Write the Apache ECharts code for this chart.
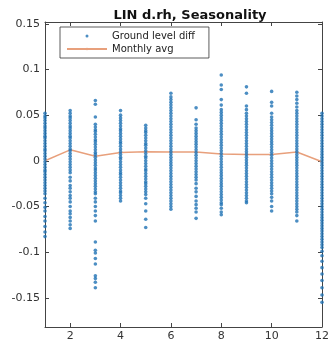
<!DOCTYPE html>
<html><head><meta charset="utf-8">
<script src="https://cdn.jsdelivr.net/npm/echarts@6/dist/echarts.min.js"></script>
<style>html,body{margin:0;padding:0;background:#fff}#c{width:332px;height:342px}</style>
</head><body><div id="c"></div>
<script>
var months = [1,2,3,4,5,6,7,8,9,10,11,12];
var xTicks = [2,4,6,8,10,12];
var yTicks = [-0.15,-0.1,-0.05,0,0.05,0.1,0.15];
var yTickLabels = ['-0.15','-0.1','-0.05','0','0.05','0.1','0.15'];
var monthlyAvg = [0, 0.012, 0.005, 0.009, 0.010, 0.0097, 0.0097, 0.0074, 0.007, 0.007, 0.0097, -0.001];

var m1 = [0.052,0.049,0.047,0.044,0.041,0.038,0.036,0.033,0.030,0.027,0.025,0.022,0.019,0.016,0.013,0.011,0.008,0.005,0.002,-0.001,-0.004,-0.007,-0.010,-0.012,-0.015,-0.018,-0.021,-0.024,-0.027,-0.030,-0.033,-0.036,-0.041,-0.046,-0.051,-0.055,-0.061,-0.066,-0.072,-0.078,-0.083];
var m2 = [0.055,0.052,0.049,0.047,0.044,0.041,0.038,0.036,0.033,0.030,0.027,0.025,0.022,0.019,0.016,0.013,0.011,0.008,0.005,0.002,-0.001,-0.004,-0.007,-0.010,-0.013,-0.018,-0.022,-0.027,-0.030,-0.034,-0.038,-0.041,-0.045,-0.050,-0.055,-0.058,-0.062,-0.066,-0.070,-0.074];
var m3 = [0.066,0.062,0.048,0.040,0.037,0.034,0.032,0.029,0.026,0.023,0.021,0.018,0.015,0.012,0.009,0.007,0.004,0.001,-0.002,-0.005,-0.008,-0.010,-0.013,-0.016,-0.019,-0.022,-0.025,-0.028,-0.031,-0.034,-0.036,-0.041,-0.045,-0.050,-0.055,-0.060,-0.066,-0.089,-0.098,-0.101,-0.107,-0.113,-0.126,-0.129,-0.133,-0.139];
var m4 = [0.055,0.050,0.047,0.044,0.041,0.038,0.035,0.033,0.030,0.027,0.024,0.021,0.019,0.016,0.013,0.010,0.007,0.004,0.002,-0.001,-0.004,-0.007,-0.010,-0.013,-0.015,-0.018,-0.021,-0.024,-0.027,-0.030,-0.033,-0.035,-0.038,-0.041,-0.044];
var m5 = [0.039,0.036,0.033,0.031,0.028,0.025,0.022,0.019,0.017,0.014,0.011,0.008,0.005,0.003,0.000,-0.003,-0.006,-0.009,-0.011,-0.014,-0.017,-0.020,-0.023,-0.025,-0.028,-0.031,-0.034,-0.037,-0.041,-0.047,-0.055,-0.064,-0.073];
var m6 = [0.074,0.070,0.067,0.064,0.061,0.058,0.055,0.052,0.049,0.046,0.043,0.040,0.037,0.034,0.031,0.028,0.025,0.022,0.019,0.016,0.013,0.010,0.007,0.004,0.001,-0.002,-0.005,-0.008,-0.011,-0.014,-0.017,-0.020,-0.023,-0.026,-0.029,-0.032,-0.035,-0.038,-0.041,-0.044,-0.047,-0.050,-0.053];
var m7 = [0.058,0.045,0.040,0.036,0.033,0.030,0.027,0.024,0.021,0.018,0.015,0.012,0.009,0.006,0.003,0.000,-0.003,-0.006,-0.009,-0.012,-0.015,-0.018,-0.021,-0.025,-0.030,-0.034,-0.039,-0.044,-0.048,-0.052,-0.056,-0.063];
var m8 = [0.094,0.083,0.078,0.067,0.061,0.056,0.053,0.050,0.047,0.044,0.041,0.038,0.035,0.032,0.029,0.026,0.023,0.020,0.017,0.014,0.011,0.008,0.005,0.002,-0.001,-0.004,-0.007,-0.010,-0.013,-0.016,-0.019,-0.022,-0.025,-0.028,-0.031,-0.034,-0.037,-0.040,-0.043,-0.046,-0.048,-0.052,-0.056,-0.059];
var m9 = [0.081,0.074,0.060,0.056,0.052,0.049,0.046,0.043,0.040,0.037,0.034,0.031,0.028,0.025,0.022,0.019,0.016,0.013,0.010,0.007,0.004,0.001,-0.002,-0.005,-0.008,-0.011,-0.014,-0.017,-0.020,-0.023,-0.026,-0.029,-0.032,-0.035,-0.038,-0.041,-0.044,-0.046];
var m10 = [0.076,0.064,0.060,0.052,0.048,0.045,0.042,0.039,0.036,0.033,0.030,0.027,0.024,0.021,0.018,0.015,0.012,0.009,0.006,0.003,0.000,-0.003,-0.006,-0.009,-0.012,-0.015,-0.018,-0.021,-0.024,-0.027,-0.030,-0.033,-0.036,-0.040,-0.044,-0.050,-0.055];
var m11 = [0.075,0.071,0.067,0.063,0.059,0.055,0.052,0.049,0.046,0.043,0.040,0.037,0.034,0.031,0.028,0.025,0.022,0.019,0.016,0.013,0.010,0.007,0.004,0.001,-0.002,-0.005,-0.008,-0.011,-0.014,-0.017,-0.020,-0.023,-0.026,-0.029,-0.032,-0.035,-0.038,-0.041,-0.044,-0.047,-0.050,-0.053,-0.056,-0.060,-0.066];
var m12 = [0.052,0.049,0.046,0.043,0.040,0.037,0.034,0.031,0.028,0.025,0.022,0.019,0.016,0.013,0.010,0.007,0.004,0.001,-0.002,-0.005,-0.008,-0.011,-0.014,-0.017,-0.020,-0.023,-0.026,-0.029,-0.032,-0.035,-0.038,-0.041,-0.044,-0.047,-0.050,-0.053,-0.056,-0.059,-0.062,-0.065,-0.068,-0.071,-0.074,-0.077,-0.080,-0.083,-0.086,-0.089,-0.092,-0.095,-0.099,-0.104,-0.110,-0.117,-0.124,-0.131,-0.139,-0.147,-0.155];

var perMonth = [m1,m2,m3,m4,m5,m6,m7,m8,m9,m10,m11,m12];
var scatterData = [];
perMonth.forEach(function(arr, i){ arr.forEach(function(v){ scatterData.push([months[i], v]); }); });
var lineData = months.map(function(m, i){ return [m, monthlyAvg[i]]; });

var YMIN = -0.182, YMAX = 0.152;
var font = 'DejaVu Sans';
var axisCol = '#444';
function yAx(pos, showLabel){
  return {
    type:'value', position:pos, min:YMIN, max:YMAX,
    axisLine:{show:true, lineStyle:{color:axisCol, width:1}},
    axisTick:{show:true, inside:true, length:4, customValues:yTicks, lineStyle:{color:axisCol}},
    axisLabel:{show:showLabel, customValues:yTicks, margin:5, color:'#333', fontFamily:font, fontSize:11,
      formatter:function(v){ var i = yTicks.findIndex(function(t){return Math.abs(t-v)<1e-9;}); return i>=0 ? yTickLabels[i] : ''; }},
    splitLine:{show:false}
  };
}
function xAx(pos, showLabel){
  return {
    type:'value', position:pos, min:1, max:12,
    axisLine:{show:true, onZero:false, lineStyle:{color:axisCol, width:1}},
    axisTick:{show:true, inside:true, length:4, customValues:xTicks, lineStyle:{color:axisCol}},
    axisLabel:{show:showLabel, customValues:xTicks, margin:4, color:'#333', fontFamily:font, fontSize:11},
    splitLine:{show:false}
  };
}

var chart = echarts.init(document.getElementById('c'), null, {renderer:'canvas'});
chart.setOption({
  animation:false,
  backgroundColor:'#fff',
  title:{text:'LIN d.rh, Seasonality', left:185, textAlign:'center', top:4,
    textStyle:{fontFamily:font, fontSize:13, fontWeight:'bold', color:'#111'}},
  grid:{left:45, right:9, top:22, bottom:14},
  legend:{
    left:60, top:27, orient:'vertical', itemGap:1, itemWidth:40, itemHeight:3,
    backgroundColor:'#fff', borderColor:'#333', borderWidth:0.8, padding:[3,14,3,6],
    textStyle:{fontFamily:font, fontSize:10, color:'#222', lineHeight:12},
    data:['Ground level diff','Monthly avg']
  },
  xAxis:[xAx('bottom', true), xAx('top', false)],
  yAxis:[yAx('left', true), yAx('right', false)],
  series:[
    {name:'Monthly avg', type:'line', data:lineData, symbol:'none', z:2,
      lineStyle:{color:'#e8a07c', width:1.5}, itemStyle:{color:'#e8a07c'}},
    {name:'Ground level diff', type:'scatter', data:scatterData, symbolSize:3.6, z:3,
      itemStyle:{color:'#1f72b4'}}
  ]
});
</script></body></html>
